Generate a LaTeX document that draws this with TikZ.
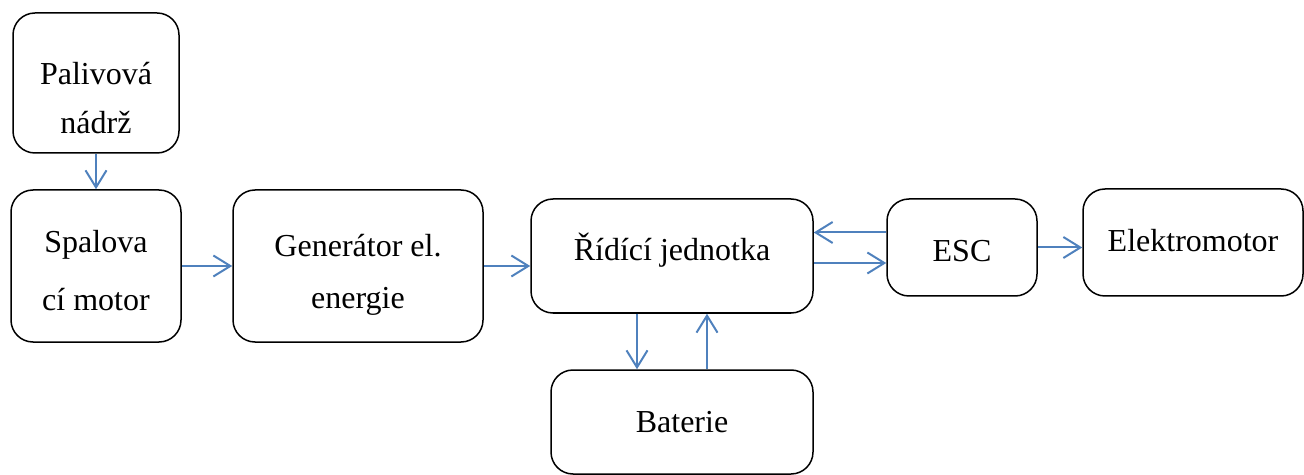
\documentclass[tikz,border=0pt]{standalone}
\usepackage{fontspec}
\setmainfont{Liberation Serif}
\usetikzlibrary{arrows.meta}
\definecolor{linkblue}{RGB}{79,129,189}
\begin{document}
\begin{tikzpicture}[
    x=0.5pt, y=-0.5pt,
    block/.style={rectangle, draw, line width=0.75pt, rounded corners=11pt, align=center, font=\fontsize{16}{25}\selectfont, inner sep=0pt},
    lines/.style={font=\fontsize{16}{#1}\selectfont},
    textbase/.style 2 args={text height=#1, text depth=#2},
    link/.style={draw=linkblue, line width=1pt, -{Straight Barb[length=8.5pt, width=10.5pt, line width=1pt]}}
  ]
    \useasboundingbox (0,0) rectangle (1304,475);

    % Components
    \node[block, lines=24.5pt, textbase={51pt}{0pt}, minimum width=83pt, minimum height=70pt] (tank) at (96, 83) {Palivová\\nádrž};
    \node[block, lines=28.5pt, textbase={44pt}{0pt}, minimum width=85pt, minimum height=76pt] (engine) at (96, 266) {Spalova\\cí motor};
    \node[block, lines=25.5pt, textbase={42pt}{0pt}, minimum width=125pt, minimum height=76pt] (gen) at (358, 266) {Generátor el.\\energie};
    \node[block, textbase={10pt}{5pt}, minimum width=141pt, minimum height=57pt] (ctrl) at (672, 256) {Řídící jednotka};
    \node[block, textbase={19.5pt}{5pt}, minimum width=75pt, minimum height=48.5pt] (esc) at (962, 247.5) {ESC};
    \node[block, textbase={14.5pt}{5pt}, minimum width=110pt, minimum height=53.5pt] (emotor) at (1193, 242.5) {Elektromotor};
    \node[block, textbase={15pt}{5pt}, minimum width=131pt, minimum height=52pt] (batt) at (682, 422) {Baterie};

    % Energy flow
    \draw[link] (tank) -- (engine);
    \draw[link] (engine) -- (gen);
    \draw[link] (gen.east) -- (gen.east -| ctrl.west);
    \draw[link] ([yshift=-3.5pt]ctrl.east) -- ([yshift=-3.5pt]ctrl.east -| esc.west);
    \draw[link] ([yshift=7.5pt]esc.west) -- ([yshift=7.5pt]esc.west -| ctrl.east);
    \draw[link] (esc.east) -- (esc.east -| emotor.west);

    % Battery
    \draw[link] ([xshift=-17.5pt]ctrl.south) -- ([xshift=-17.5pt]ctrl.south |- batt.north);
    \draw[link] ([xshift=12.5pt]batt.north) -- ([xshift=12.5pt]batt.north |- ctrl.south);
  \end{tikzpicture}
\end{document}
